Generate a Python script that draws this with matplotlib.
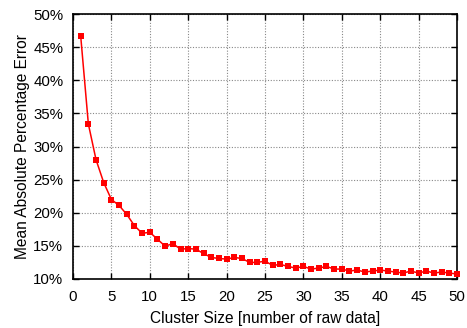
import matplotlib
matplotlib.use("Agg")
import matplotlib.pyplot as plt
from matplotlib.ticker import FuncFormatter

plt.rcParams['font.family'] = ['Liberation Sans', 'DejaVu Sans']

cluster_size = list(range(1, 51))
mape = [46.7, 33.4, 28.0, 24.55, 22.0, 21.1, 19.75, 18.05, 16.9, 17.05,
        16.0, 14.95, 15.35, 14.5, 14.6, 14.5, 13.85, 13.25, 13.1, 13.0,
        13.25, 13.1, 12.5, 12.5, 12.7, 12.05, 12.2, 11.9, 11.65, 11.9,
        11.5, 11.65, 11.9, 11.5, 11.5, 11.2, 11.35, 11.05, 11.2, 11.35,
        11.2, 11.05, 10.9, 11.2, 10.9, 11.2, 10.9, 11.05, 10.9, 10.75]
x_ticks = list(range(0, 51, 5))
y_ticks = list(range(10, 51, 5))

fig = plt.figure(figsize=(4.67, 3.28), dpi=100)
ax = fig.add_axes([73/467, 49/328, 384/467, 265/328])
ax.plot(cluster_size, mape, color='#ff0000', lw=1.1, marker='s', ms=4.8,
        markeredgewidth=0, zorder=3, clip_on=False)
ax.set_xlim(0, 50)
ax.set_ylim(10, 50)
ax.set_xticks(x_ticks)
ax.set_yticks(y_ticks)
ax.yaxis.set_major_formatter(FuncFormatter(lambda v, p: f"{int(v)}%"))
ax.grid(True, color='#888888', linestyle=(0, (1, 1.5)), lw=0.8)
ax.tick_params(direction='in', top=True, right=True, length=4, width=1,
               labelsize=10.8)
ax.tick_params(axis='x', pad=8)
ax.tick_params(axis='y', pad=7)
for s in ax.spines.values():
    s.set_linewidth(1.2)
ax.set_xlabel('Cluster Size [number of raw data]', fontsize=11.2, labelpad=5)
ax.set_ylabel('Mean Absolute Percentage Error', fontsize=11.2, labelpad=2)
fig.savefig('out.png', dpi=100)
